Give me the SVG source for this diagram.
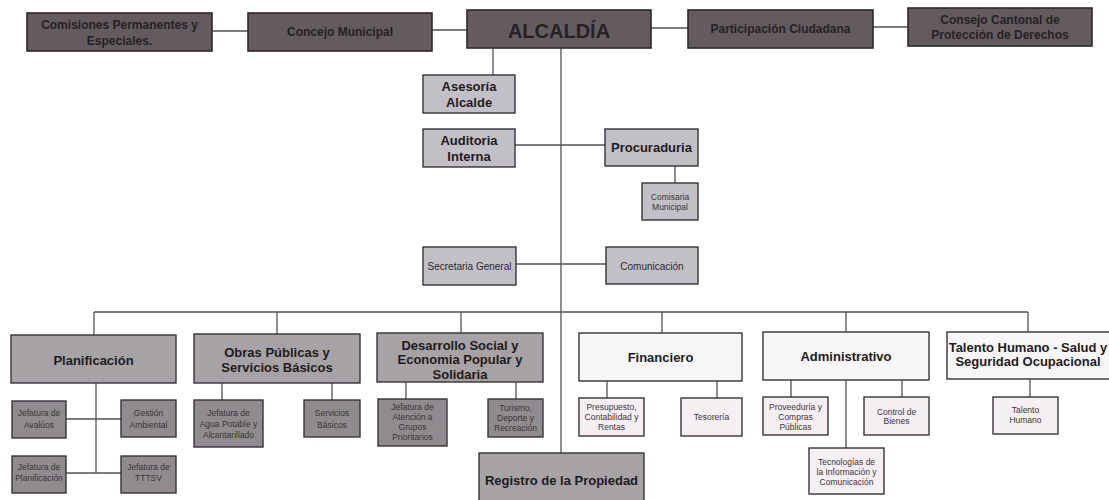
<svg xmlns="http://www.w3.org/2000/svg" width="1109" height="500" viewBox="0 0 1109 500">
<style>
text{font-family:"Liberation Sans",Arial,sans-serif;text-anchor:middle}
.top rect{fill:#635b60;stroke:#2c282a;stroke-width:1.6}
.top text{font-size:12px;font-weight:bold;fill:#272124}
.lav rect{fill:#c3bfc6;stroke:#38333a;stroke-width:1.4}
.mid rect{fill:#a6a2a5;stroke:#38333a;stroke-width:1.4}
.dk rect{fill:#908b8e;stroke:#38333a;stroke-width:1.4}
.wh rect{fill:#f8f6f8;stroke:#38333a;stroke-width:1.4}
.pk rect{fill:#f5eff4;stroke:#38333a;stroke-width:1.4}
.b13{font-size:13px;font-weight:bold;fill:#1f1b1d}
.r10{font-size:10px;fill:#2e292c}
.s{font-size:8.5px;fill:#3a3538}
#conn line{stroke:#555055;stroke-width:1.3}
</style>
<g id="conn">
<line x1="212" y1="31" x2="248" y2="31"/>
<line x1="432" y1="30" x2="467" y2="30"/>
<line x1="651" y1="28" x2="688" y2="28"/>
<line x1="873" y1="27" x2="908" y2="27"/>
<line x1="493" y1="48" x2="493" y2="75"/>
<line x1="561" y1="48" x2="561" y2="453"/>
<line x1="515" y1="145" x2="605" y2="145"/>
<line x1="675" y1="166" x2="675" y2="183"/>
<line x1="516" y1="264" x2="606" y2="264"/>
<line x1="94" y1="312" x2="1028" y2="312"/>
<line x1="94" y1="312" x2="94" y2="335"/>
<line x1="277" y1="312" x2="277" y2="334"/>
<line x1="461" y1="312" x2="461" y2="333"/>
<line x1="662" y1="312" x2="662" y2="333"/>
<line x1="846" y1="312" x2="846" y2="332"/>
<line x1="1028" y1="312" x2="1028" y2="332"/>
<line x1="96" y1="383" x2="96" y2="473"/>
<line x1="66" y1="419" x2="121" y2="419"/>
<line x1="66" y1="473" x2="121" y2="473"/>
<line x1="222" y1="383" x2="222" y2="400"/>
<line x1="332" y1="383" x2="332" y2="400"/>
<line x1="406" y1="382" x2="406" y2="399"/>
<line x1="516" y1="382" x2="516" y2="399"/>
<line x1="607" y1="381" x2="607" y2="398"/>
<line x1="717" y1="381" x2="717" y2="398"/>
<line x1="791" y1="380" x2="791" y2="397"/>
<line x1="902" y1="380" x2="902" y2="397"/>
<line x1="846" y1="380" x2="846" y2="448"/>
<line x1="1030" y1="379" x2="1030" y2="397"/>
</g>
<g id="comisiones" class="top"><rect x="27" y="13" width="185" height="38"/><text x="119.5" y="29">Comisiones Permanentes y</text><text x="119.5" y="45">Especiales.</text></g>
<g id="concejo" class="top"><rect x="248" y="13" width="184" height="38"/><text x="340" y="36">Concejo Municipal</text></g>
<g id="alcaldia" class="top"><rect x="467" y="10" width="184" height="38"/><text x="559" y="38" style="font-size:20px">ALCALDÍA</text></g>
<g id="participacion" class="top"><rect x="688" y="10" width="185" height="38"/><text x="780.5" y="33">Participación Ciudadana</text></g>
<g id="consejo" class="top"><rect x="908" y="8" width="184" height="38"/><text x="1000" y="24">Consejo Cantonal de</text><text x="1000" y="39">Protección de Derechos</text></g>
<g id="asesoria" class="lav"><rect x="423" y="75" width="92" height="38"/><text class="b13" x="469" y="91">Asesoría</text><text class="b13" x="469" y="107">Alcalde</text></g>
<g id="auditoria" class="lav"><rect x="423" y="129" width="92" height="38"/><text class="b13" x="469" y="145">Auditoria</text><text class="b13" x="469" y="161">Interna</text></g>
<g id="procuraduria" class="lav"><rect x="605" y="129" width="93" height="37"/><text class="b13" x="651.5" y="152">Procuraduria</text></g>
<g id="comisaria" class="lav"><rect x="642" y="183" width="56" height="37"/><text class="s" x="670" y="199.5">Comisaria</text><text class="s" x="670" y="210">Municipal</text></g>
<g id="secretaria" class="lav"><rect x="423" y="247" width="93" height="38"/><text class="r10" x="469.5" y="269.5">Secretaria General</text></g>
<g id="comunicacion" class="lav"><rect x="606" y="247" width="92" height="37"/><text class="r10" x="652" y="269.5">Comunicación</text></g>
<g id="planificacion" class="mid"><rect x="11" y="335" width="165" height="48"/><text class="b13" x="93.5" y="364.5">Planificación</text></g>
<g id="obras" class="mid"><rect x="194" y="334" width="166" height="49"/><text class="b13" x="277" y="357">Obras Públicas y</text><text class="b13" x="277" y="372">Servicios Básicos</text></g>
<g id="desarrollo" class="mid"><rect x="377" y="333" width="166" height="49"/><text class="b13" x="460" y="349.5">Desarrollo Social y</text><text class="b13" x="460" y="364">Economia Popular y</text><text class="b13" x="460" y="378.5">Solidaria</text></g>
<g id="financiero" class="wh"><rect x="579" y="333" width="163" height="48"/><text class="b13" x="660.5" y="361.5">Financiero</text></g>
<g id="administrativo" class="wh"><rect x="763" y="332" width="166" height="48"/><text class="b13" x="846" y="360.5">Administrativo</text></g>
<g id="talento" class="wh"><rect x="947" y="332" width="165" height="47"/><text class="b13" x="1028" y="351.5">Talento Humano - Salud y</text><text class="b13" x="1028" y="365.5">Seguridad Ocupacional</text></g>
<g id="registro" class="mid"><rect x="479" y="453" width="165" height="52"/><text class="b13" x="561.5" y="484.5">Registro de la Propiedad</text></g>
<g id="avaluos" class="dk"><rect x="12" y="401" width="54" height="37"/><text class="s" x="39" y="415.5">Jefatura de</text><text class="s" x="39" y="427.5">Avalúos</text></g>
<g id="gestion" class="dk"><rect x="121" y="400" width="55" height="37"/><text class="s" x="148.5" y="415.5">Gestión</text><text class="s" x="148.5" y="427.5">Ambiental</text></g>
<g id="jefplan" class="dk"><rect x="12" y="456" width="54" height="37"/><text class="s" x="39" y="469.5">Jefatura de</text><text class="s" x="39" y="480.5">Planificación</text></g>
<g id="tttsv" class="dk"><rect x="121" y="456" width="55" height="37"/><text class="s" x="148.5" y="469.5">Jefatura de</text><text class="s" x="148.5" y="480.5">TTTSV</text></g>
<g id="agua" class="dk"><rect x="194" y="400" width="69" height="47"/><text class="s" x="228.5" y="415.5">Jefatura de</text><text class="s" x="228.5" y="426.5">Agua Potable y</text><text class="s" x="228.5" y="437.5">Alcantarillado</text></g>
<g id="servicios" class="dk"><rect x="304" y="400" width="56" height="37"/><text class="s" x="332" y="415.5">Servicios</text><text class="s" x="332" y="427.5">Básicos</text></g>
<g id="atencion" class="dk"><rect x="378" y="399" width="69" height="47"/><text class="s" x="412.5" y="409.5">Jefatura de</text><text class="s" x="412.5" y="419.5">Atención a</text><text class="s" x="412.5" y="429.5">Grupos</text><text class="s" x="412.5" y="439.5">Prioritarios</text></g>
<g id="turismo" class="dk"><rect x="488" y="399" width="55" height="38"/><text class="s" x="515.5" y="410.5">Turismo,</text><text class="s" x="515.5" y="420.5">Deporte y</text><text class="s" x="515.5" y="430.5">Recreación</text></g>
<g id="presupuesto" class="pk"><rect x="579" y="398" width="65" height="38"/><text class="s" x="611.5" y="409.5">Presupuesto,</text><text class="s" x="611.5" y="419.5">Contabilidad y</text><text class="s" x="611.5" y="429.5">Rentas</text></g>
<g id="tesoreria" class="pk"><rect x="681" y="398" width="61" height="38"/><text class="s" x="711.5" y="419.5">Tesorería</text></g>
<g id="proveeduria" class="pk"><rect x="763" y="397" width="65" height="38"/><text class="s" x="795.5" y="409.5">Proveeduría y</text><text class="s" x="795.5" y="419.5">Compras</text><text class="s" x="795.5" y="429.5">Públicas</text></g>
<g id="control" class="pk"><rect x="864" y="397" width="65" height="38"/><text class="s" x="896.5" y="414.5">Control de</text><text class="s" x="896.5" y="424">Bienes</text></g>
<g id="tecnologias" class="pk"><rect x="809" y="448" width="75" height="46"/><text class="s" x="846.5" y="464.5">Tecnologías de</text><text class="s" x="846.5" y="474.5">la Información y</text><text class="s" x="846.5" y="484.5">Comunicación</text></g>
<g id="talento-humano" class="pk"><rect x="993" y="397" width="65" height="37"/><text class="s" x="1025.5" y="412.5">Talento</text><text class="s" x="1025.5" y="422.5">Humano</text></g>
</svg>
